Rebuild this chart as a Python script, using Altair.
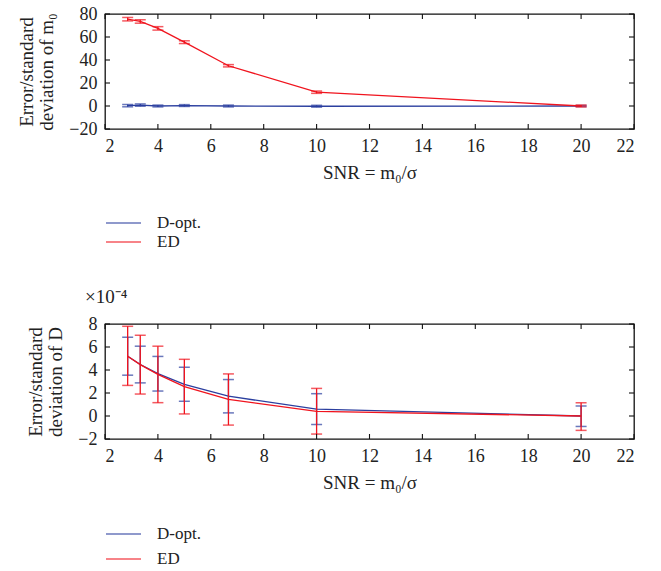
import altair as alt
import pandas as pd

# SNR levels (m0 / sigma)
snr = [2.857, 3.333, 4.0, 5.0, 6.667, 10.0, 20.0]

# Error / standard deviation of m0
m0_dopt = [0.3, 0.8, 0.0, 0.4, 0.0, -0.2, 0.0]
m0_dopt_lo = [-0.7, -0.2, -0.8, -0.4, -0.8, -1.0, -0.5]
m0_dopt_hi = [1.3, 1.8, 0.8, 1.2, 0.8, 0.6, 0.5]
m0_ed = [75.5, 73.5, 67.5, 55.5, 35.0, 12.0, 0.0]
m0_ed_lo = [74.0, 72.0, 66.0, 54.3, 34.0, 11.0, -0.8]
m0_ed_hi = [77.0, 75.0, 69.0, 56.7, 36.0, 13.0, 0.8]

# Error / standard deviation of D, in units of 1e-4
d_dopt = [5.2, 4.48, 3.68, 2.76, 1.72, 0.6, 0.0]
d_dopt_lo = [3.55, 2.88, 2.17, 1.28, 0.27, -0.74, -0.91]
d_dopt_hi = [6.85, 6.07, 5.18, 4.24, 3.17, 1.94, 0.87]
d_ed = [5.2, 4.47, 3.62, 2.56, 1.44, 0.41, 0.0]
d_ed_lo = [2.66, 1.91, 1.16, 0.18, -0.79, -1.57, -1.25]
d_ed_hi = [7.8, 7.02, 6.07, 4.93, 3.66, 2.4, 1.15]

methods = ["D-opt.", "ED"]
x_ticks = [2, 4, 6, 8, 10, 12, 14, 16, 18, 20, 22]
m0_ticks = [-20, 0, 20, 40, 60, 80]
d_ticks = [-2, 0, 2, 4, 6, 8]

FONT = "Liberation Serif"
BLUE = "#2b3f9f"
RED = "#f0141e"
W, H = 529, 115
TICK = 5
SYM = 35  # legend line length in px


def panel(series, y_domain, y_ticks, y_title, legend_y, row_gap, title=None):
    rows = []
    for name, (mean, lo, hi) in zip(methods, series):
        for s, m, l, h in zip(snr, mean, lo, hi):
            rows.append(dict(snr=s, val=m, lo=l, hi=h, method=name))
    df = pd.DataFrame(rows)

    xs = alt.Scale(domain=[2, 22], nice=False, zero=False)
    ys = alt.Scale(domain=y_domain, nice=False, zero=False)
    x_axis = alt.Axis(values=x_ticks, title="SNR = m₀/σ", labelPadding=8, titlePadding=8,
                      labelOverlap=False)
    y_axis = alt.Axis(values=y_ticks, title=y_title, labelPadding=8, titlePadding=12,
                      titleLineHeight=20, labelOverlap=False)
    x = alt.X("snr:Q", scale=xs, axis=x_axis)
    y = alt.Y("val:Q", scale=ys, axis=y_axis)
    color_scale = alt.Scale(domain=methods, range=[BLUE, RED])
    legend = alt.Legend(orient="none", legendX=0, legendY=legend_y, title=None,
                        symbolType="stroke", symbolSize=SYM * SYM, symbolStrokeWidth=1.3,
                        clipHeight=16, labelFont=FONT, labelFontSize=17,
                        labelColor="#222", labelOffset=15, rowPadding=row_gap)

    layers = []
    for i, name in enumerate(methods):
        base = alt.Chart(df).transform_filter(alt.datum.method == name)
        col = alt.Color("method:N", scale=color_scale, legend=legend if i == 0 else None)
        layers.append(base.mark_line(strokeWidth=1.3).encode(x=x, y=y, color=col))
        layers.append(base.mark_rule(strokeWidth=1.3).encode(
            x=x, y=alt.Y("lo:Q", scale=ys, axis=y_axis), y2="hi:Q", color=col))
        for end in ["lo", "hi"]:
            layers.append(base.mark_tick(orient="horizontal", size=11, thickness=1.5).encode(
                x=x, y=alt.Y(f"{end}:Q", scale=ys, axis=y_axis), color=col))

    # inward ticks on all four sides of the frame
    xt = alt.Chart(pd.DataFrame({"snr": x_ticks}))
    yt = alt.Chart(pd.DataFrame({"val": y_ticks}))
    tick_style = dict(color="#111", strokeWidth=1.1)
    layers += [
        xt.mark_rule(**tick_style).encode(x=x, y=alt.value(0), y2=alt.value(TICK)),
        xt.mark_rule(**tick_style).encode(x=x, y=alt.value(H - TICK), y2=alt.value(H)),
        yt.mark_rule(**tick_style).encode(y=y, x=alt.value(0), x2=alt.value(TICK)),
        yt.mark_rule(**tick_style).encode(y=y, x=alt.value(W - TICK), x2=alt.value(W)),
    ]

    props = dict(width=W, height=H)
    if title:
        props["title"] = alt.TitleParams(title, anchor="start", frame="group", dx=-20,
                                         offset=8, font=FONT, fontSize=19,
                                         fontWeight="normal", color="#222")
    return alt.layer(*layers).properties(**props)


top = panel([(m0_dopt, m0_dopt_lo, m0_dopt_hi), (m0_ed, m0_ed_lo, m0_ed_hi)],
            [-20, 80], m0_ticks, ["Error/standard", "deviation of m₀"],
            legend_y=201, row_gap=2)
bottom = panel([(d_dopt, d_dopt_lo, d_dopt_hi), (d_ed, d_ed_lo, d_ed_hi)],
               [-2, 8], d_ticks, ["Error/standard", "deviation of D"],
               legend_y=202, row_gap=8, title="×10⁻⁴")

chart = (
    alt.vconcat(top, bottom, spacing=36)
    .resolve_scale(color="independent")
    .resolve_legend(color="independent")
    .properties(padding={"left": 17, "top": 4, "right": 5, "bottom": 0},
                background="white")
    .configure_view(stroke="#111", strokeWidth=1.3)
    .configure_axis(labelFont=FONT, labelFontSize=18, labelColor="#222",
                    titleFont=FONT, titleFontSize=19, titleFontWeight="normal",
                    titleColor="#222", domain=False, ticks=False, grid=False)
)

chart.save("out.html", embed_options={"renderer": "svg", "actions": False})
